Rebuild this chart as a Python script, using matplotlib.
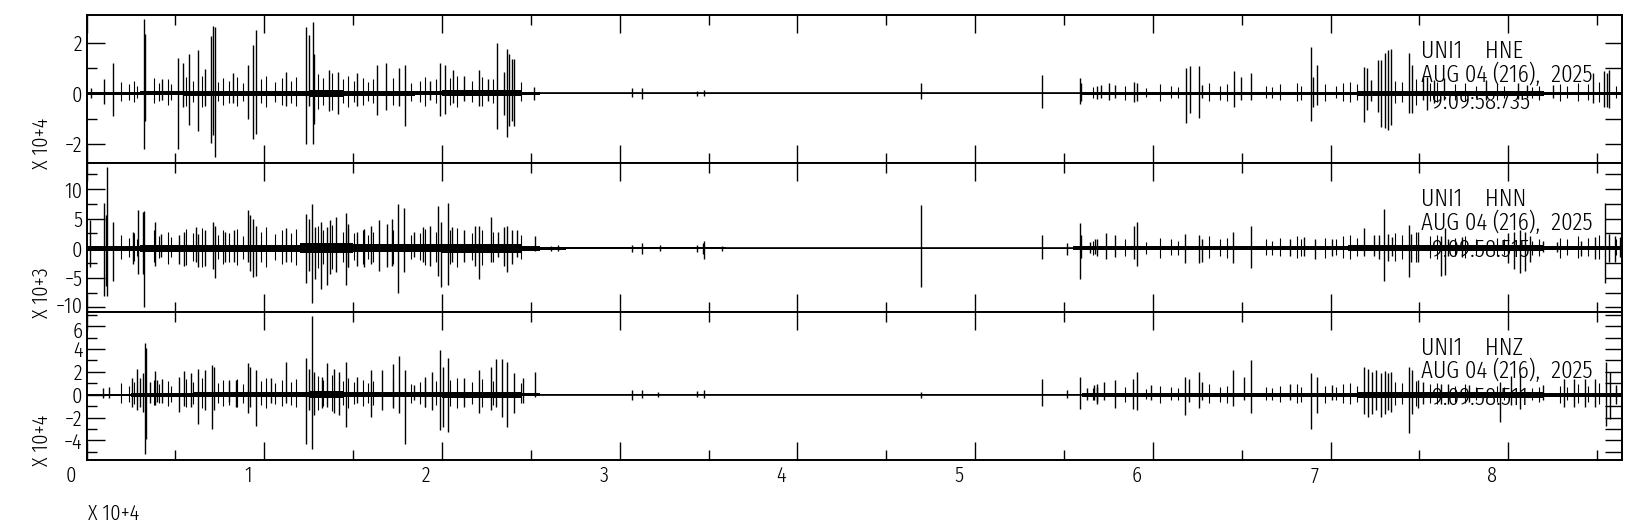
import matplotlib
matplotlib.use("Agg")
import matplotlib.pyplot as plt
from matplotlib.transforms import ScaledTranslation

# ---- data (x in units of 10**4 s, y in the panel's scaled units) ----
x_max = 8.64

stations = ["UNI1    HNE", "UNI1    HNN", "UNI1    HNZ"]
date_line = "AUG 04 (216),  2025"
time_lines = ["9:09:58.735", "9:09:58.515", "9:09:58.511"]
scale_labels = ["X 10+4", "X 10+3", "X 10+4"]

ylims = [(-2.75, 3.07), (-10.7, 14.4), (-5.71, 7.28)]
ymajor = [[-2, 0, 2], [-10, -5, 0, 5, 10], [-4, -2, 0, 2, 4, 6]]
yminor = [[-1, 1], [-7.5, -2.5, 2.5, 7.5, 12.5], [-5, -3, -1, 1, 3, 5, 7]]

# HNE spikes: time, upper, lower
hne_t = [0.025, 0.100, 0.148, 0.325, 0.331, 0.427, 0.515, 0.543, 0.578, 0.628,
         0.668, 0.702, 0.712, 0.724, 0.823, 0.909, 0.939, 0.956, 1.120, 1.237,
         1.253, 1.273, 1.281, 1.362, 1.412, 1.522, 1.633, 1.683, 1.760, 1.790,
         1.934, 1.991, 2.015, 2.061, 2.125, 2.206, 2.256, 2.310, 2.347, 2.363,
         2.377, 2.395, 2.407, 2.517,
         3.070, 3.128, 3.436, 3.476, 4.698, 5.379, 5.592, 5.598, 5.683,
         5.706, 5.755, 5.785, 5.893, 5.913, 6.184, 6.209, 6.258, 6.274, 6.456,
         6.495, 6.555, 6.890, 6.904, 6.926, 7.186, 7.206, 7.226, 7.269, 7.285,
         7.305, 7.324, 7.338, 7.443, 7.457, 7.522, 7.541, 7.581, 7.640, 7.877,
         8.055, 8.104, 8.252, 8.479, 8.538, 8.558, 8.568]
hne_hi = [0.2, 0.56, 1.2, 2.94, 2.35, 0.55, 1.4, 1.2, 1.57, 1.7,
          0.94, 2.25, 2.64, 2.6, 0.8, 1.1, 1.9, 2.5, 0.85, 2.6,
          2.3, 2.8, 1.57, 0.9, 0.85, 0.8, 1.1, 1.2, 1.0, 1.1,
          0.5, 1.2, 1.1, 0.9, 0.7, 0.9, 0.55, 2.0, 0.85, 1.76,
          1.57, 1.37, 1.34, 0.26,
          0.2, 0.2, 0.1, 0.12, 0.4, 0.73, 0.61, 0.39, 0.3,
          0.33, 0.4, 0.33, 0.46, 0.4, 0.99, 1.08, 1.08, 0.33, 0.89,
          0.66, 0.79, 1.82, 0.66, 1.12, 1.05, 0.99, 0.53, 1.32, 1.32,
          1.58, 1.71, 1.74, 1.58, 1.12, 0.63, 0.66, 0.53, 0.59, 0.53,
          0.4, 0.33, 0.33, 0.79, 0.89, 0.79, 0.92]
hne_lo = [-0.2, -0.42, -0.9, -2.2, -1.1, -0.26, -2.2, -0.55, -1.25, -1.5,
          -0.5, -1.96, -1.63, -2.5, -0.4, -1.0, -1.8, -1.6, -0.5, -2.0,
          -0.5, -2.0, -1.2, -0.7, -0.8, -0.5, -0.85, -0.65, -0.5, -1.3,
          -0.26, -0.9, -0.8, -0.4, -0.3, -0.5, -0.3, -1.4, -0.85, -1.73,
          -1.3, -1.1, -1.3, -0.26,
          -0.16, -0.24, -0.1, -0.1, -0.24, -0.59, -0.42, -0.3, -0.24,
          -0.2, -0.26, -0.2, -0.33, -0.3, -1.16, -0.79, -0.99, -0.2, -0.55,
          -0.26, -0.26, -1.08, -0.53, -0.46, -1.12, -0.66, -0.3, -0.72, -1.32,
          -1.38, -1.45, -1.25, -0.79, -0.79, -0.26, -0.66, -0.4, -0.26, -0.26,
          -0.24, -0.2, -0.2, -0.4, -0.53, -0.53, -0.59]

# HNN spikes
hnn_t = [0.019, 0.100, 0.108, 0.116, 0.148, 0.260, 0.292, 0.317, 0.325, 0.387,
         0.417, 0.518, 0.548, 0.618, 0.628, 0.668, 0.709, 0.722, 0.779, 0.829,
         0.909, 0.919, 0.939, 0.952, 1.120, 1.237, 1.253, 1.271, 1.285, 1.321,
         1.352, 1.372, 1.402, 1.458, 1.472, 1.522, 1.563, 1.603, 1.643, 1.693,
         1.719, 1.754, 1.788, 1.844, 1.894, 1.934, 1.975, 1.995, 2.035, 2.055,
         2.125, 2.186, 2.210, 2.276, 2.316, 2.346, 2.366, 2.391, 2.423, 2.523,
         2.612, 2.652, 3.070, 3.128, 3.225, 3.436, 3.466, 3.476, 3.577, 4.698,
         5.379, 5.516, 5.592, 5.598, 5.647, 5.677,
         5.686, 5.735, 5.785, 5.893, 5.913, 6.180, 6.259, 6.274, 6.452, 6.555,
         6.772, 6.851, 6.910, 7.009, 7.186, 7.246, 7.275, 7.301, 7.324, 7.344,
         7.439, 7.453, 7.492, 7.621, 7.646, 7.660, 7.739, 7.996, 8.035, 8.065,
         8.094, 8.124, 8.193, 8.272, 8.410, 8.489, 8.544, 8.568, 8.598, 8.631]
hnn_hi = [4.7, 7.7, 5.6, 13.8, 4.4, 2.8, 6.5, 6.1, 6.3, 4.5,
          2.4, 2.2, 2.8, 3.6, 2.4, 3.0, 4.4, 3.8, 2.7, 3.0,
          6.4, 5.6, 5.0, 3.8, 3.4, 5.7, 5.0, 7.4, 3.6, 4.4,
          3.6, 4.7, 5.3, 6.0, 4.1, 2.8, 3.3, 3.8, 4.7, 4.1,
          5.0, 7.5, 6.8, 2.7, 3.6, 3.8, 7.2, 4.4, 7.7, 3.6,
          3.0, 3.8, 3.8, 5.3, 2.7, 3.6, 3.8, 3.0, 3.0, 2.0,
          0.4, 0.6, 0.6, 0.8, 0.5, 0.6, 0.8, 1.2, 0.3, 7.3,
          2.2, 0.8, 4.2, 2.2, 1.0, 1.5,
          1.6, 2.6, 2.2, 3.8, 4.4, 2.4, 2.2, 1.6, 2.8, 3.7,
          1.6, 1.9, 1.6, 1.5, 3.4, 2.2, 2.2, 6.7, 2.4, 1.9,
          4.0, 2.4, 2.7, 2.1, 3.4, 1.6, 1.9, 2.5, 2.8, 3.0,
          2.7, 2.0, 1.3, 1.0, 1.3, 1.9, 7.7, 2.4, 2.1, 1.9]
hnn_lo = [-3.2, -8.1, -6.4, -8.1, -5.5, -2.7, -4.4, -4.4, -9.9, -3.0,
          -1.5, -2.7, -3.0, -2.4, -3.2, -3.0, -3.5, -5.1, -2.4, -2.4,
          -2.4, -3.8, -4.9, -4.7, -2.4, -5.9, -3.8, -9.2, -5.2, -6.9,
          -6.3, -4.4, -4.1, -6.3, -3.2, -3.0, -3.2, -2.7, -3.8, -3.2,
          -3.0, -7.5, -4.1, -1.5, -2.4, -3.0, -4.7, -6.6, -6.2, -2.4,
          -2.4, -3.0, -5.2, -2.4, -1.5, -3.0, -4.0, -2.7, -1.5, -0.4,
          -0.4, -0.4, -0.6, -0.9, -0.5, -0.6, -0.9, -1.8, -0.5, -6.6,
          -1.8, -1.1, -5.2, -1.7, -0.8, -1.0,
          -1.3, -1.9, -1.5, -1.8, -3.0, -2.5, -2.5, -2.4, -2.5, -3.4,
          -1.3, -1.3, -1.8, -1.3, -1.3, -1.3, -1.8, -5.6, -2.1, -1.3,
          -4.9, -2.3, -2.4, -4.7, -4.6, -1.3, -1.5, -2.5, -3.5, -4.2,
          -3.8, -2.3, -0.7, -0.7, -1.3, -1.8, -5.9, -2.3, -2.4, -1.5]

# HNZ spikes
hnz_t = [0.095, 0.126, 0.256, 0.286, 0.300, 0.320, 0.327, 0.335, 0.357, 0.387,
         0.397, 0.427, 0.518, 0.548, 0.588, 0.628, 0.668, 0.704, 0.718, 0.799,
         0.839, 0.907, 0.919, 0.956, 1.040, 1.120, 1.237, 1.253, 1.271, 1.281,
         1.322, 1.352, 1.392, 1.418, 1.458, 1.522, 1.603, 1.663, 1.723, 1.756,
         1.790, 1.844, 1.905, 1.944, 1.991, 2.005, 2.035, 2.125, 2.206, 2.276,
         2.306, 2.337, 2.363, 2.407, 2.457, 2.521,
         3.070, 3.128, 3.215, 3.436, 3.476, 4.698, 5.379, 5.516, 5.592, 5.627,
         5.667, 5.687,
         5.686, 5.726, 5.785, 5.887, 5.913, 5.992, 6.180, 6.203, 6.262, 6.278,
         6.452, 6.511, 6.555, 6.772, 6.890, 6.926, 7.009, 7.186, 7.210, 7.236,
         7.255, 7.285, 7.305, 7.324, 7.340, 7.439, 7.459, 7.492, 7.522, 7.621,
         7.660, 7.778, 7.956, 8.015, 8.065, 8.193, 8.311, 8.371, 8.430, 8.489,
         8.548, 8.574, 8.607]
hnz_hi = [0.55, 0.7, 1.5, 2.26, 1.5, 1.9, 4.5, 4.1, 1.1, 2.1,
          1.3, 1.36, 1.57, 2.06, 1.86, 2.29, 2.14, 2.64, 2.43, 1.28,
          1.33, 2.78, 2.43, 2.2, 1.42, 2.87, 3.19, 2.29, 6.9, 2.0,
          1.57, 2.78, 2.29, 2.0, 2.87, 1.57, 2.14, 2.14, 2.72, 3.4,
          2.14, 0.84, 1.57, 2.0, 3.94, 2.43, 3.25, 1.42, 2.14, 2.43,
          3.16, 3.16, 2.87, 1.86, 1.42, 2.0,
          0.38, 0.43, 0.23, 0.3, 0.43, 0.23, 1.39, 0.38, 1.59, 0.6,
          0.81, 0.7,
          0.96, 1.1, 1.25, 1.39, 2.03, 0.81, 1.54, 1.39, 2.03, 1.1,
          2.2, 1.59, 3.0, 0.96, 1.88, 1.59, 0.81, 2.41, 2.26, 1.97,
          2.12, 1.88, 2.06, 1.88, 1.97, 2.41, 2.17, 1.25, 1.1, 0.96,
          0.96, 0.81, 1.1, 1.68, 1.83, 0.81, 1.39, 1.39, 1.39, 1.39,
          2.83, 1.97, 0.81]
hnz_lo = [-0.3, -0.3, -1.04, -1.3, -1.1, -1.5, -5.2, -3.9, -0.75, -0.9,
          -0.6, -0.7, -1.5, -1.0, -1.04, -2.55, -1.33, -2.96, -1.33, -0.6,
          -1.04, -1.62, -1.04, -2.72, -0.75, -0.75, -4.35, -1.33, -4.75, -1.77,
          -1.19, -1.04, -1.62, -1.77, -2.78, -0.75, -1.91, -1.33, -1.19, -1.62,
          -4.29, -0.46, -1.04, -1.33, -3.07, -2.78, -3.3, -1.04, -1.62, -1.33,
          -1.04, -1.91, -2.78, -1.62, -0.75, -0.2,
          -0.43, -0.26, -0.2, -0.2, -0.26, -0.26, -1.01, -0.26, -1.25, -0.5,
          -0.49, -0.6,
          -0.78, -0.5, -1.13, -1.22, -1.3, -0.49, -1.8, -0.64, -1.13, -0.49,
          -0.96, -0.49, -1.59, -0.49, -2.96, -1.59, -0.49, -1.65, -1.94, -1.65,
          -1.36, -1.94, -1.65, -1.36, -1.51, -3.39, -1.65, -1.13, -0.78, -0.78,
          -0.78, -0.64, -2.38, -0.93, -1.22, -0.49, -1.07, -1.07, -1.07, -1.07,
          -2.75, -2.09, -0.78]

# smaller wiggles common to the three channels
minor_t = [0.196, 0.236, 0.266, 0.286, 0.377, 0.407, 0.457, 0.477, 0.558, 0.598,
           0.648, 0.739, 0.769, 0.799, 0.849, 0.879, 0.980, 1.010, 1.060, 1.100,
           1.150, 1.181, 1.301, 1.331, 1.382, 1.442, 1.472, 1.502, 1.553, 1.583,
           1.613, 1.723, 1.824, 1.874, 1.904, 1.965, 2.045, 2.085, 2.166, 2.226,
           2.286, 2.447,
           5.666, 5.844, 5.962, 6.041, 6.101, 6.140, 6.318, 6.377, 6.416, 6.634,
           6.673, 6.713, 6.811, 6.831, 6.969, 7.028, 7.068, 7.107, 7.147, 7.364,
           7.403, 7.482, 7.561, 7.601, 7.700, 7.759, 7.818, 7.936, 7.976, 8.134,
           8.173, 8.292, 8.331, 8.391, 8.450, 8.509, 8.608]
hne_minor_hi = [0.45, 0.35, 0.5, 0.3, 0.6, 0.4, 0.55, 0.35, 0.65, 0.5,
                0.7, 0.45, 0.6, 0.5, 0.65, 0.4, 0.55, 0.7, 0.45, 0.6,
                0.5, 0.65, 0.75, 0.6, 0.8, 0.55, 0.7, 0.5, 0.6, 0.45,
                0.55, 0.6, 0.4, 0.5, 0.65, 0.55, 0.6, 0.7, 0.5, 0.65,
                0.55, 0.45,
                0.25, 0.3, 0.2, 0.35, 0.3, 0.25, 0.4, 0.3, 0.35, 0.3,
                0.25, 0.35, 0.4, 0.3, 0.35, 0.3, 0.4, 0.45, 0.35, 0.5,
                0.45, 0.55, 0.4, 0.45, 0.35, 0.4, 0.3, 0.35, 0.3, 0.25,
                0.3, 0.35, 0.3, 0.4, 0.35, 0.45, 0.3]
hne_minor_lo = [-0.3, -0.25, -0.35, -0.2, -0.4, -0.3, -0.45, -0.25, -0.5, -0.35,
                -0.55, -0.3, -0.45, -0.4, -0.5, -0.3, -0.4, -0.55, -0.35, -0.45,
                -0.4, -0.5, -0.6, -0.45, -0.65, -0.4, -0.55, -0.35, -0.45, -0.3,
                -0.4, -0.45, -0.3, -0.35, -0.5, -0.4, -0.45, -0.55, -0.35, -0.5,
                -0.4, -0.3,
                -0.2, -0.25, -0.15, -0.3, -0.2, -0.2, -0.3, -0.25, -0.3, -0.2,
                -0.2, -0.25, -0.3, -0.25, -0.3, -0.2, -0.3, -0.35, -0.25, -0.4,
                -0.35, -0.45, -0.3, -0.35, -0.25, -0.3, -0.2, -0.25, -0.2, -0.2,
                -0.25, -0.3, -0.2, -0.3, -0.25, -0.35, -0.2]
hnn_minor_hi = [2.2, 1.8, 2.6, 1.6, 3.0, 2.0, 2.8, 1.9, 3.2, 2.5,
                3.4, 2.3, 3.0, 2.6, 3.2, 2.1, 2.7, 3.5, 2.4, 3.0,
                2.6, 3.3, 3.7, 3.0, 3.9, 2.8, 3.4, 2.5, 3.0, 2.3,
                2.7, 3.0, 2.2, 2.6, 3.2, 2.8, 3.0, 3.4, 2.6, 3.1,
                2.7, 2.2,
                1.3, 1.6, 1.1, 1.8, 1.5, 1.3, 2.0, 1.6, 1.8, 1.5,
                1.3, 1.8, 2.0, 1.5, 1.8, 1.6, 2.1, 2.3, 1.8, 2.6,
                2.3, 2.8, 2.1, 2.3, 1.8, 2.1, 1.6, 1.8, 1.5, 1.3,
                1.6, 1.8, 1.5, 2.0, 1.8, 2.3, 1.6]
hnn_minor_lo = [-1.8, -1.5, -2.1, -1.3, -2.4, -1.7, -2.6, -1.5, -2.9, -2.1,
                -3.1, -1.8, -2.6, -2.3, -2.9, -1.8, -2.3, -3.1, -2.0, -2.6,
                -2.3, -2.9, -3.4, -2.6, -3.6, -2.3, -3.1, -2.0, -2.6, -1.8,
                -2.3, -2.6, -1.8, -2.0, -2.9, -2.3, -2.6, -3.1, -2.0, -2.9,
                -2.3, -1.8,
                -1.1, -1.3, -0.9, -1.6, -1.1, -1.1, -1.6, -1.3, -1.6, -1.1,
                -1.1, -1.3, -1.6, -1.3, -1.6, -1.1, -1.6, -1.8, -1.3, -2.1,
                -1.8, -2.4, -1.6, -1.8, -1.3, -1.6, -1.1, -1.3, -1.1, -1.1,
                -1.3, -1.6, -1.1, -1.6, -1.3, -1.8, -1.1]
hnz_minor_hi = [1.0, 0.8, 1.1, 0.7, 1.3, 0.9, 1.2, 0.8, 1.4, 1.1,
                1.5, 1.0, 1.3, 1.1, 1.4, 0.9, 1.2, 1.5, 1.0, 1.3,
                1.1, 1.4, 1.6, 1.3, 1.7, 1.2, 1.5, 1.1, 1.3, 1.0,
                1.2, 1.3, 0.9, 1.1, 1.4, 1.2, 1.3, 1.5, 1.1, 1.4,
                1.2, 1.0,
                0.6, 0.7, 0.5, 0.8, 0.7, 0.6, 0.9, 0.7, 0.8, 0.7,
                0.6, 0.8, 0.9, 0.7, 0.8, 0.7, 0.9, 1.0, 0.8, 1.1,
                1.0, 1.2, 0.9, 1.0, 0.8, 0.9, 0.7, 0.8, 0.7, 0.6,
                0.7, 0.8, 0.7, 0.9, 0.8, 1.0, 0.7]
hnz_minor_lo = [-0.7, -0.6, -0.8, -0.5, -0.9, -0.7, -1.0, -0.6, -1.1, -0.8,
                -1.2, -0.7, -1.0, -0.9, -1.1, -0.7, -0.9, -1.2, -0.8, -1.0,
                -0.9, -1.1, -1.3, -1.0, -1.4, -0.9, -1.2, -0.8, -1.0, -0.7,
                -0.9, -1.0, -0.7, -0.8, -1.1, -0.9, -1.0, -1.2, -0.8, -1.1,
                -0.9, -0.7,
                -0.5, -0.6, -0.4, -0.7, -0.5, -0.5, -0.7, -0.6, -0.7, -0.5,
                -0.5, -0.6, -0.7, -0.6, -0.7, -0.5, -0.7, -0.8, -0.6, -0.9,
                -0.8, -1.0, -0.7, -0.8, -0.6, -0.7, -0.5, -0.6, -0.5, -0.5,
                -0.6, -0.7, -0.5, -0.7, -0.6, -0.8, -0.5]

# background noise level: segment start, segment end, half amplitude
hne_noise = [(0.0, 0.05, 0.07), (0.05, 0.30, 0.05), (0.30, 0.55, 0.08),
             (0.55, 1.25, 0.11), (1.25, 1.45, 0.15), (1.45, 1.85, 0.11),
             (1.85, 2.0, 0.08), (2.0, 2.45, 0.12), (2.45, 2.55, 0.07),
             (2.55, 3.0, 0.03), (3.0, 5.6, 0.02), (5.6, 6.15, 0.05),
             (6.15, 7.15, 0.06), (7.15, 8.2, 0.09), (8.2, 8.64, 0.06)]
hnn_noise = [(0.0, 0.3, 0.4), (0.3, 0.45, 0.6), (0.45, 1.2, 0.6),
             (1.2, 1.5, 0.8), (1.5, 2.0, 0.7), (2.0, 2.45, 0.75),
             (2.45, 2.55, 0.4), (2.55, 2.7, 0.25), (2.7, 3.6, 0.15),
             (3.6, 5.55, 0.1), (5.55, 5.7, 0.35), (5.7, 7.1, 0.3),
             (7.1, 8.2, 0.5), (8.2, 8.64, 0.3)]
hnz_noise = [(0.0, 0.1, 0.03), (0.1, 0.25, 0.1), (0.25, 0.6, 0.18),
             (0.6, 1.25, 0.2), (1.25, 1.45, 0.3), (1.45, 2.0, 0.2),
             (2.0, 2.45, 0.25), (2.45, 2.55, 0.12), (2.55, 5.6, 0.02),
             (5.6, 7.15, 0.18), (7.15, 8.2, 0.25), (8.2, 8.64, 0.18)]

traces = [(hne_t, hne_hi, hne_lo, hne_minor_hi, hne_minor_lo, hne_noise),
          (hnn_t, hnn_hi, hnn_lo, hnn_minor_hi, hnn_minor_lo, hnn_noise),
          (hnz_t, hnz_hi, hnz_lo, hnz_minor_hi, hnz_minor_lo, hnz_noise)]

# narrow thin font, close to the SAC plot font
FONT = dict(family=["Fira Sans Extra Condensed", "DejaVu Sans"], weight=300)
FS = 18      # station / date text
FS_TICK = 16

# ---- figure ----
W, H = 1640, 526
fig = plt.figure(figsize=(W / 100, H / 100), dpi=100)
left, right = 86.6, 1622
tops = [15.5, 163, 311.5]
bots = [163, 311.5, 460]

axes = []
for i, (t, hi, lo, mhi, mlo, noise) in enumerate(traces):
    ax = fig.add_axes([left / W, 1 - bots[i] / H, (right - left) / W,
                       (bots[i] - tops[i]) / H])
    edges = [s[0] for s in noise] + [noise[-1][1]]
    half = [s[2] for s in noise] + [noise[-1][2]]
    ax.fill_between(edges, [-h for h in half], half, step="post",
                    color="k", lw=0, zorder=2)
    ax.axhline(0, color="k", lw=1.2, zorder=2)
    ax.vlines(minor_t, mlo, mhi, color="k", lw=0.8, zorder=2)
    ax.vlines(t, lo, hi, color="k", lw=1.0, zorder=2)
    ax.set_xlim(0, x_max)
    ax.set_ylim(*ylims[i])

    ax.set_xticks(range(0, 9))
    ax.set_xticks([k + 0.5 for k in range(0, 9) if k + 0.5 < x_max], minor=True)
    ax.set_yticks(ymajor[i])
    ax.set_yticks(yminor[i], minor=True)
    ax.tick_params(which="both", direction="in", top=True, bottom=True,
                   left=True, right=False, width=1.0, color="k")
    ax.tick_params(which="major", length=13)
    ax.tick_params(which="minor", length=7)
    ax.set_yticklabels([str(v).replace("-", "\u2212") for v in ymajor[i]],
                       fontsize=FS_TICK, **FONT)
    ax.tick_params(axis="y", pad=3)
    for sp in ax.spines.values():
        sp.set_linewidth(1.4)

    # right side: every tick drawn long
    sec = ax.secondary_yaxis("right")
    sec.set_yticks(sorted(ymajor[i] + yminor[i]))
    sec.set_yticklabels([])
    sec.tick_params(direction="in", length=12, width=1.0)
    sec.spines["right"].set_linewidth(1.4)

    ax.text(0.869, 0.755, stations[i], transform=ax.transAxes, fontsize=FS,
            va="center", ha="left", zorder=1, **FONT)
    ax.text(0.869, 0.60, date_line, transform=ax.transAxes, fontsize=FS,
            va="center", ha="left", zorder=1, **FONT)
    ax.text(0.876, 0.415, time_lines[i], transform=ax.transAxes, fontsize=FS,
            va="center", ha="left", zorder=1, **FONT)
    fig.text(42 / W, 1 - (bots[i] + 6) / H, scale_labels[i], rotation=90,
             ha="center", va="bottom", fontsize=FS_TICK, **FONT)
    axes.append(ax)

# labels sitting on a panel edge: nudge them apart a little
up = ScaledTranslation(0, 3 / 100, fig.dpi_scale_trans)
down = ScaledTranslation(0, -3 / 100, fig.dpi_scale_trans)
lab = axes[1].get_yticklabels()[0]
lab.set_transform(lab.get_transform() + up)
lab = axes[2].get_yticklabels()[-1]
lab.set_transform(lab.get_transform() + down)

for ax in axes[:-1]:
    ax.set_xticklabels([])
bottom = axes[-1]
bottom.set_xticklabels([str(k) for k in range(0, 9)], fontsize=FS_TICK, **FONT)
bottom.tick_params(axis="x", pad=4)
shift = ScaledTranslation(-16 / 100, 0, fig.dpi_scale_trans)
for lab in bottom.get_xticklabels():
    lab.set_transform(lab.get_transform() + shift)
fig.text(88 / W, 1 - 514 / H, "X 10+4", ha="left", va="center",
         fontsize=FS_TICK, **FONT)

fig.savefig("out.png", dpi=100, facecolor="white")
